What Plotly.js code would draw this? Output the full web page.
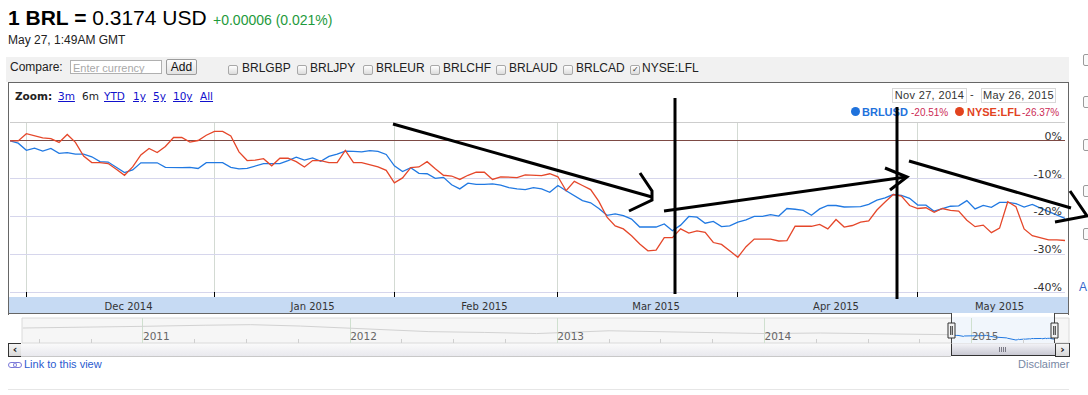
<!DOCTYPE html>
<html><head><meta charset="utf-8">
<script src="https://cdn.plot.ly/plotly-3.0.1.min.js"></script>
<style>
html,body{margin:0;padding:0;width:1088px;height:395px;overflow:hidden;background:#fff;font-family:"Liberation Sans",Arial,sans-serif;}
.a{position:absolute;white-space:nowrap;line-height:1;}
#chart{position:absolute;left:0;top:0;width:1088px;height:395px;z-index:2;}
.cb{position:absolute;top:65px;width:8px;height:8px;border:1px solid #a8a8a8;border-radius:2px;background:linear-gradient(#ffffff,#dcdcdc);}
.cl{position:absolute;top:62px;font-size:12px;color:#222;line-height:1;}
.zl{position:absolute;top:91px;font-family:"DejaVu Sans";font-size:10.5px;color:#1111cc;text-decoration:underline;line-height:1;}
.rb{position:absolute;left:1083px;width:10px;height:10px;border:1px solid #9a9a9a;border-radius:2px;background:#fafafa;}
.gr{position:absolute;top:4px;width:1px;height:5px;background:#7a7a86;}
</style></head>
<body>
<!-- header -->
<div class="a" style="left:8px;top:7px;font-size:21px;color:#000;"><b>1 BRL =</b> 0.3174 USD</div>
<div class="a" style="left:213px;top:13px;font-size:14px;color:#1e9a3c;">+0.00006 (0.021%)</div>
<div class="a" style="left:8px;top:33.5px;font-size:12px;color:#222;">May 27, 1:49AM GMT</div>
<!-- compare bar -->
<div class="a" style="left:6px;top:57px;width:1063px;height:25px;background:#f1f1f1;"></div>
<div class="a" style="left:10px;top:61px;font-size:12px;color:#222;">Compare:</div>
<div class="a" style="left:70px;top:60px;width:90px;height:12px;border:1px solid #b0b0b0;background:#fff;"></div>
<div class="a" style="left:73px;top:63px;font-size:11px;color:#a8a8a8;">Enter currency</div>
<div class="a" style="left:166px;top:59px;width:29px;height:14px;border:1px solid #9c9c9c;border-radius:2px;background:linear-gradient(#fcfcfc,#e2e2e2);font-size:12px;color:#111;text-align:center;line-height:14px;">Add</div>
<div class="cb" style="left:228px"></div><div class="cl" style="left:242px">BRLGBP</div>
<div class="cb" style="left:297px"></div><div class="cl" style="left:310px">BRLJPY</div>
<div class="cb" style="left:363px"></div><div class="cl" style="left:376px">BRLEUR</div>
<div class="cb" style="left:430px"></div><div class="cl" style="left:443px">BRLCHF</div>
<div class="cb" style="left:496px"></div><div class="cl" style="left:509px">BRLAUD</div>
<div class="cb" style="left:563px"></div><div class="cl" style="left:576px">BRLCAD</div>
<div class="cb" style="left:630px"><div style="position:absolute;left:1px;top:-1px;font-size:8px;color:#333;font-family:'DejaVu Sans';">&#10003;</div></div><div class="cl" style="left:642px">NYSE:LFL</div>
<!-- chart frame -->
<div class="a" style="left:8px;top:82px;width:1059px;height:232px;border-left:1px solid #666;border-top:1px solid #666;border-right:1px solid #666;"></div>
<div class="a" style="left:8px;top:313px;width:944px;height:1px;background:#666;"></div>
<div class="a" style="left:1055px;top:313px;width:14px;height:1px;background:#666;"></div>
<div class="a" style="left:15px;top:91px;font-family:'DejaVu Sans';font-weight:bold;font-size:10.5px;color:#222;">Zoom:</div>
<div class="zl" style="left:58px">3m</div>
<div class="zl" style="left:82px;color:#222;text-decoration:none;">6m</div>
<div class="zl" style="left:104px">YTD</div>
<div class="zl" style="left:133px">1y</div>
<div class="zl" style="left:153px">5y</div>
<div class="zl" style="left:173px">10y</div>
<div class="zl" style="left:200px">All</div>
<div class="a" style="left:892px;top:88px;width:73px;height:13px;border:1px solid #d8d8d8;background:#fff;font-size:11px;letter-spacing:0.35px;color:#333;text-align:center;line-height:13px;">Nov 27, 2014</div>
<div class="a" style="left:970px;top:89px;font-size:11px;color:#333;">-</div>
<div class="a" style="left:981px;top:88px;width:73px;height:13px;border:1px solid #d8d8d8;background:#fff;font-size:11px;letter-spacing:0.35px;color:#333;text-align:center;line-height:13px;">May 26, 2015</div>
<!-- legend -->
<div class="a" style="left:851px;top:107px;width:9px;height:9px;border-radius:50%;background:#1f72dc;"></div>
<div class="a" id="lg1" style="left:862px;top:106.5px;font-size:11px;font-weight:bold;color:#1f72dc;">BRLUSD</div>
<div class="a" id="lg1p" style="left:911px;top:107.5px;font-size:10px;color:#cc2a55;"></div>
<div class="a" style="left:955px;top:107px;width:9px;height:9px;border-radius:50%;background:#e2431e;"></div>
<div class="a" style="left:967px;top:106.5px;font-size:11px;font-weight:bold;color:#e2431e;">NYSE:LFL</div>
<div class="a" id="lg2p" style="left:1022px;top:107.5px;font-size:10px;color:#cc2a55;"></div>
<!-- scrollbar -->
<div class="a" style="left:8px;top:343px;width:12px;height:12px;border:1px solid #333;background:linear-gradient(#f6f6f6,#d8d8d8);font-family:'DejaVu Sans';font-weight:bold;font-size:11px;text-align:center;line-height:12px;color:#111;">&#8249;</div>
<div class="a" style="left:21px;top:343px;width:930px;height:13px;background:linear-gradient(#fbfbfb,#e9e9ee);border-bottom:1px solid #c8c8c8;"></div>
<div class="a" style="left:951px;top:343px;width:103px;height:12px;border:1px solid #333;border-top:none;background:linear-gradient(#f5f5f9,#c9c9d3);">
  <div class="gr" style="left:47px"></div><div class="gr" style="left:49px"></div><div class="gr" style="left:51px"></div><div class="gr" style="left:53px"></div>
</div>
<div class="a" style="left:1055px;top:343px;width:13px;height:12px;border:1px solid #333;background:linear-gradient(#f6f6f6,#d8d8d8);font-family:'DejaVu Sans';font-weight:bold;font-size:11px;text-align:center;line-height:12px;color:#111;">&#8250;</div>
<!-- footer -->
<div class="a" style="left:8px;top:362px;width:7px;height:4px;border:1px solid #7a78d8;border-radius:3px;"></div>
<div class="a" style="left:13px;top:362px;width:7px;height:4px;border:1px solid #7a78d8;border-radius:3px;"></div>
<div class="a" style="left:24px;top:359px;font-size:11px;color:#2a5bd0;">Link to this view</div>
<div class="a" style="left:1018px;top:359px;width:50px;text-align:right;font-size:11px;color:#7888a4;">Disclaimer</div>
<div class="a" style="left:8px;top:389px;width:1061px;height:1px;background:#e6e6e6;"></div>
<!-- right edge controls -->
<div class="rb" style="top:54px"></div><div class="rb" style="top:96px"></div><div class="rb" style="top:139px"></div><div class="rb" style="top:185px"></div><div class="rb" style="top:228px"></div>
<div class="a" style="left:1079px;top:281px;font-size:12px;color:#3366cc;">A</div>

<div id="chart"></div>
<script>
// ---------------- data ----------------
const startDate = '2014-11-27';   // first trading day shown
const brlusd = [0,-0.6,-2.5,-1.9,-2.7,-2.0,-3.3,-3.1,-3.5,-3.5,-4.2,-5.5,-5.6,-6.9,-8.4,-7.7,-5.8,-5.8,-5.8,-7.0,
 -7.1,-7.1,-7.0,-7.3,-5.75,-5.75,-5.75,-7.0,-7.4,-7.3,-6.6,-6.0,-6.0,-6.0,-5.2,-4.3,-5.1,-4.5,-5.4,-4.1,
 -3.5,-2.7,-2.8,-2.9,-2.6,-2.8,-3.6,-6.6,-8.1,-7.1,-8.6,-8.7,-9.9,-9.65,-11.6,-12.7,-11.2,-11.5,-11.5,-11.4,
 -11.7,-12.4,-12.7,-12.9,-12.4,-12.7,-13.6,-11.8,-13.2,-14.5,-15.8,-16.4,-17.9,-19.7,-19.3,-19.8,-20.7,-22.8,-22.8,-22.8,
 -22.0,-23.8,-22.3,-20.0,-20.2,-21.8,-21.3,-22.7,-22.5,-21.5,-20.9,-20.0,-20.0,-19.5,-19.9,-17.9,-18.1,-18.4,-19.7,-18.0,
 -17.1,-17.1,-17.5,-17.4,-17.4,-16.8,-15.7,-15.1,-14.2,-14.4,-15.2,-17.0,-17.0,-18.6,-17.9,-17.3,-17.2,-15.8,-18.0,-17.1,
 -17.6,-16.3,-16.3,-16.6,-17.5,-16.8,-17.8,-18.7,-19.5,-20.51];
const lfl = [0,0,1.9,1.4,0.8,0.6,-0.4,1.7,-0.4,-4.0,-5.75,-5.75,-6.0,-7.5,-9.1,-6.9,-3.7,-2.0,-3.1,-1.5,
 0.9,0.9,-0.3,0.1,1.5,2.5,2.5,1.3,-2.9,-5.2,-5.1,-4.7,-6.6,-4.6,-4.6,-5.5,-6.9,-5.2,-5.2,-5.75,
 -5.75,-2.5,-5.75,-5.75,-6.4,-6.9,-7.8,-11.1,-9.8,-7.1,-6.9,-5.5,-7.4,-9.1,-9.3,-10.2,-9.1,-8.3,-8.3,-10.2,
 -9.5,-9.5,-9.7,-9.0,-9.1,-9.2,-8.7,-9.5,-13.2,-10.7,-11.8,-12.9,-16.0,-20.2,-22.5,-23.3,-25.1,-27.3,-29.1,-28.9,
 -25.6,-25.6,-23.3,-24.4,-23.8,-24.2,-26.9,-27.4,-29.1,-30.8,-28.0,-26.0,-26.0,-26.0,-26.5,-26.4,-22.6,-22.6,-22.6,-22.1,
 -23.3,-20.8,-22.8,-22.4,-21.5,-21.2,-18.3,-16.2,-14.2,-14.6,-17.1,-17.9,-17.7,-18.9,-17.9,-18.4,-18.6,-21.0,-22.7,-22.3,
 -24.3,-23.1,-16.1,-17.4,-23.3,-25.1,-25.7,-26.2,-26.2,-26.37];
const seriesNames = ['BRLUSD','NYSE:LFL'];
const lastRate = 0.3174;          // BRL in USD at the end of the range
const yTickVals = [0,-10,-20,-30,-40];
const yTickText = ['0%','-10%','-20%','-30%','-40%'];
const monthNames = ['Jan','Feb','Mar','Apr','May','Jun','Jul','Aug','Sep','Oct','Nov','Dec'];
// navigator (5-year overview)
const navYearTicks = [2011,2012,2013,2014,2015];
const navHistYear = [2010.42,2010.7,2011.0,2011.3,2011.52,2011.76,2012.0,2012.38,2012.65,2012.9,2013.25,2013.5,2013.76,2014.0,2014.27,2014.6,2014.905];
const navHistRate = [0.52,0.53,0.55,0.57,0.58,0.555,0.52,0.455,0.44,0.42,0.47,0.45,0.43,0.42,0.43,0.41,0.399];

// ---------------- derived ----------------
const dates = [];
{ let d = new Date(startDate+'T00:00:00Z');
  while (dates.length < brlusd.length) { const w=d.getUTCDay(); if (w!==0 && w!==6) dates.push(new Date(d)); d.setUTCDate(d.getUTCDate()+1); } }
const idx = dates.map((d,i)=>i);
const monthStart = [], monthLab = [];
dates.forEach((d,i)=>{ if (i>0 && d.getUTCMonth()!==dates[i-1].getUTCMonth()) { monthStart.push(i); monthLab.push(monthNames[d.getUTCMonth()]+' '+d.getUTCFullYear()); } });
const bounds = monthStart.concat([idx.length-1]);
const monthMid = monthStart.map((s,k)=> (s+bounds[k+1])/2 + 1);
const decYear = d => { const y=d.getUTCFullYear(); const s=Date.UTC(y,0,1), e=Date.UTC(y+1,0,1); return y+(d-s)/(e-s); };
const navSelYear = dates.map(decYear);
const baseRate = lastRate/(1+brlusd[brlusd.length-1]/100);
const navSelRate = brlusd.map(v=>baseRate*(1+v/100));
const navMinor = []; for (let y=2010.5; y<2015.5; y+=0.25) if (Math.abs(y-Math.round(y))>0.01) navMinor.push(y);

document.getElementById('lg1p').textContent = brlusd[brlusd.length-1].toFixed(2)+'%';
document.getElementById('lg2p').textContent = lfl[lfl.length-1].toFixed(2)+'%';

// ---------------- geometry ----------------
const W=1088,H=395,L=10,R=19,T=122,B=52;
const PW=W-L-R, PH=H-T-B;
const px=x=>(x-L)/PW, py=y=>(H-B-y)/PH;
const seg = (pts,w,c)=>({type:'path',xref:'paper',yref:'paper',layer:'above',
  path:'M'+pts.map(p=>px(p[0]).toFixed(5)+','+py(p[1]).toFixed(5)).join('L'),
  line:{color:c||'#000',width:w||3}});
const box = (x0,y0,x1,y1,fill,lc,layer)=>({type:'rect',xref:'paper',yref:'paper',layer:layer||'above',
  x0:px(x0),x1:px(x1),y0:py(y1),y1:py(y0),fillcolor:fill,line:{color:lc||'rgba(0,0,0,0)',width:lc?1:0}});

const shapes = [
  // date band under the main plot
  box(9,297,1068,313,'#c6daf3',null,'below'),
  // top border of plot
  seg([[10,122.5],[1065,122.5]],1,'#cdcdcd'),
  // navigator background and selected window
  {type:'rect',xref:'x2 domain',yref:'y2 domain',x0:0,x1:1,y0:0,y1:1,layer:'below',fillcolor:'#f6f6f6',line:{color:'#dadada',width:1}},
  {type:'rect',xref:'x2',yref:'y2 domain',x0:navSelYear[0],x1:navSelYear[navSelYear.length-1],y0:0,y1:1.05,layer:'below',fillcolor:'#f1f6fc',line:{width:0}},
  // selection edges and handles
  seg([[951.5,313],[951.5,343]],1,'#444'), seg([[1054.5,313],[1054.5,343]],1,'#444'),
  box(948,323,955,338,'#f2f2f2','#333'), box(1051,323,1058,338,'#f2f2f2','#333'),
  seg([[950.7,326],[950.7,335]],1,'#333'), seg([[952.3,326],[952.3,335]],1,'#333'),
  seg([[1053.7,326],[1053.7,335]],1,'#333'), seg([[1055.3,326],[1055.3,335]],1,'#333'),
  // hand-drawn marks
  seg([[393,124],[652,197]]), seg([[640,173],[652,191],[652,200],[629,211]]),
  seg([[675,98],[675,294]]),
  seg([[664,211],[906,177]]), seg([[885,168],[907,177],[890,190]]),
  seg([[897,107],[897,299]]),
  seg([[909,161],[1071,208]]), seg([[1070,191],[1087,216],[1055,222]])
];

const font = 'DejaVu Sans';
const traces = [
  {x:idx,y:brlusd,name:seriesNames[0],type:'scatter',mode:'lines',line:{color:'#2179e2',width:1.3},xaxis:'x',yaxis:'y',hoverinfo:'skip'},
  {x:idx,y:lfl,name:seriesNames[1],type:'scatter',mode:'lines',line:{color:'#e5472a',width:1.3},xaxis:'x',yaxis:'y',hoverinfo:'skip'},
  {x:navHistYear,y:navHistRate,type:'scatter',mode:'lines',line:{color:'#d2d2d2',width:1},xaxis:'x2',yaxis:'y2',hoverinfo:'skip'},
  {x:navSelYear,y:navSelRate,type:'scatter',mode:'lines',line:{color:'#2179e2',width:1},xaxis:'x2',yaxis:'y2',hoverinfo:'skip'}
];

const layout = {
  width:W,height:H,margin:{l:L,r:R,t:T,b:B,pad:0},
  paper_bgcolor:'rgba(0,0,0,0)',plot_bgcolor:'rgba(0,0,0,0)',showlegend:false,
  xaxis:{domain:[0,px(1065)],range:[0,idx.length-1],anchor:'y',tickmode:'array',tickvals:monthMid,ticktext:monthLab,
    ticks:'',showgrid:false,zeroline:false,showline:false,tickfont:{family:font,size:10,color:'#333'},ticklabelstandoff:2,
    minor:{tickmode:'array',tickvals:monthStart,ticks:'inside',ticklen:5,tickcolor:'#000',tickwidth:1,showgrid:true,gridcolor:'#d3dad3',gridwidth:1},
    fixedrange:true},
  yaxis:{domain:[py(297),py(122)],range:[-40-5/3.7778,5],side:'right',anchor:'x',tickmode:'array',tickvals:yTickVals,ticktext:yTickText,
    ticks:'',ticklabelposition:'inside',ticklabelshift:-5,ticklabelstandoff:0,showgrid:true,gridcolor:'#d6d6ec',gridwidth:1,
    zeroline:true,zerolinecolor:'#7d4a44',zerolinewidth:1,showline:false,tickfont:{family:font,size:11,color:'#333'},fixedrange:true},
  xaxis2:{domain:[px(22),1],range:[2010.416,2015.47],anchor:'y2',tickmode:'array',tickvals:navYearTicks,ticktext:navYearTicks.map(String),
    ticks:'',ticklabelposition:'inside right',ticklabelstandoff:-5,showgrid:true,gridcolor:'#cfe0cf',zeroline:false,showline:false,
    tickfont:{family:font,size:10.5,color:'#666'},
    minor:{tickmode:'array',tickvals:navMinor,ticks:'inside',ticklen:4,tickcolor:'#cfcfcf',showgrid:false},fixedrange:true},
  yaxis2:{domain:[0,py(318)],range:[0.25,0.70],anchor:'x2',visible:false,fixedrange:true},
  shapes:shapes
};
Plotly.newPlot('chart',traces,layout,{displayModeBar:false,staticPlot:true});
</script>
</body></html>
